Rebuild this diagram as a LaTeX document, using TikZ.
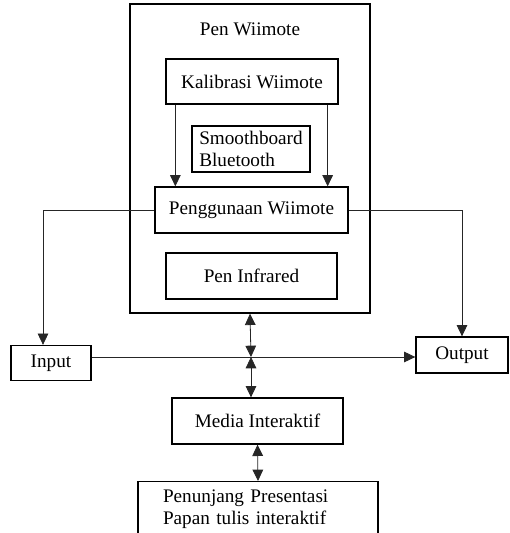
\documentclass[tikz,border=0pt]{standalone}
\usepackage{fontspec}
\setmainfont{Liberation Serif}
\usepackage{tikz}
\usetikzlibrary{arrows.meta, positioning, calc}
\tikzstyle{arrow} = [line width=0.6pt, black!85, -{Triangle[length=8.5pt,width=8pt]}]
\tikzstyle{dblarrow} = [line width=0.6pt, black!85, {Triangle[length=8.5pt,width=8pt]}-{Triangle[length=8.5pt,width=8pt]}]
\tikzstyle{block} = [rectangle, draw, line width=1pt, inner sep=0pt, font=\fontsize{14.4}{17}\selectfont]
\tikzset{every node/.style={align=center}}

\begin{document}
\begin{tikzpicture}[x=0.75pt, y=-0.75pt]
    \useasboundingbox (0,0) rectangle (510,533);
    \node (wiimote) [block, minimum width=180pt, minimum height=231.75pt] at (250,158.5) {};
    \node (title) [font=\fontsize{14.4}{17}\selectfont] at (250,29) {Pen Wiimote};
    \node (kalib) [block, minimum width=129pt, minimum height=33.75pt] at (252,81.5) {Kalibrasi Wiimote};
    \node (smooth) [block, align=left, minimum width=88.5pt, minimum height=34.5pt] at (251,149) {Smoothboard\\Bluetooth};
    \node (guna) [block, minimum width=144.75pt, minimum height=34.5pt] at (251.5,210) {Penggunaan Wiimote};
    \node (infra) [block, minimum width=128.25pt, minimum height=34.5pt] at (251.5,276) {Pen Infrared};
    \node (input) [block, minimum width=60pt, minimum height=26.25pt] at (51,363) {Input};
    \node (output) [block, minimum width=69pt, minimum height=27pt] at (462,355) {Output};
    \node (media) [block, minimum width=128.25pt, minimum height=34.5pt] at (257.5,421) {Media Interaktif};
    \node (penunjang) [block, anchor=north, align=left, minimum width=180pt, minimum height=41.25pt, text width=142.5pt, inner xsep=18.75pt, font=\fontsize{14.4}{16.5}\selectfont] at (258,481) {Penunjang Presentasi\\Papan tulis interaktif};
    \coordinate (hub) at (251,357);

    % kalibrasi ke penggunaan
    \draw [arrow] (kalib.south west) ++(10,0) coordinate (k1) -- (k1 |- guna.north);
    \draw [arrow] (kalib.south east) ++(-11,0) coordinate (k2) -- (k2 |- guna.north);
    % keluar ke input / output
    \draw [arrow] (guna.west) -| ($(input.north)+(-8,0)$);
    \draw [arrow] (guna.east) -| (output.north);
    \draw [arrow] (input.east |- hub) -- (output.west |- hub);
    % hubungan vertikal
    \draw [dblarrow] (wiimote.south) -- (hub);
    \draw [dblarrow] (hub) -- (hub |- media.north);
    \draw [dblarrow] (media.south) -- (penunjang.north);
\end{tikzpicture}
\end{document}
